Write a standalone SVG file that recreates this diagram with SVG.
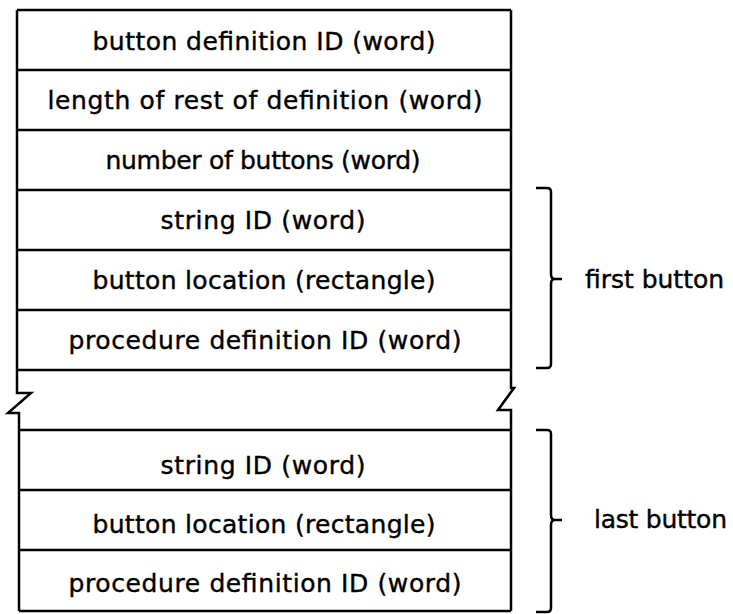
<svg xmlns="http://www.w3.org/2000/svg" width="733" height="614" viewBox="0 0 733 614">
<style>
.ln{fill:none;stroke:#000;stroke-width:2.5;stroke-linejoin:miter}
.t{font-family:"DejaVu Sans","Liberation Sans",sans-serif;font-size:25px;fill:#000;stroke:#000;stroke-width:0.4;text-anchor:middle}
.lb{font-family:"DejaVu Sans","Liberation Sans",sans-serif;font-size:25px;fill:#000;stroke:#000;stroke-width:0.4}
</style>
<rect width="733" height="614" fill="#fff"/>
<g id="connectors">
<path class="ln" d="M17,10 H511"/>
<path class="ln" d="M17,10 V393 H31 L8,413 H19 V611"/>
<path class="ln" d="M511,10 V388 H514 L498,410 H511 V611"/>
<path class="ln" d="M17,370 H511"/>
<path class="ln" d="M19,430 H511"/>
<path class="ln" d="M19,611 H511"/>
</g>
<g id="row1"><path class="ln" d="M17,70 H511"/><text class="t" x="264" y="50" textLength="343">button definition ID (word)</text></g>
<g id="row2"><path class="ln" d="M17,130 H511"/><text class="t" x="265" y="109" textLength="435">length of rest of definition (word)</text></g>
<g id="row3"><path class="ln" d="M17,190 H511"/><text class="t" x="263" y="169" textLength="315">number of buttons (word)</text></g>
<g id="row4"><path class="ln" d="M17,250 H511"/><text class="t" x="263" y="229" textLength="205">string ID (word)</text></g>
<g id="row5"><path class="ln" d="M17,310 H511"/><text class="t" x="264" y="289" textLength="343">button location (rectangle)</text></g>
<g id="row6"><text class="t" x="265" y="349" textLength="393">procedure definition ID (word)</text></g>
<g id="row7"><path class="ln" d="M19,490 H511"/><text class="t" x="263" y="474" textLength="205">string ID (word)</text></g>
<g id="row8"><path class="ln" d="M19,550 H511"/><text class="t" x="264" y="533" textLength="343">button location (rectangle)</text></g>
<g id="row9"><text class="t" x="265" y="592" textLength="393">procedure definition ID (word)</text></g>
<g id="first-button">
<path class="ln" d="M536,188 H547 Q551,188 551,192 V274 Q551,279 555,279 H562 M555,279 Q551,279 551,284 V364 Q551,368 547,368 H536"/>
<text class="lb" x="585" y="288" textLength="139">first button</text>
</g>
<g id="last-button">
<path class="ln" d="M536,430 H547 Q551,430 551,434 V515 Q551,520 555,520 H562 M555,520 Q551,520 551,525 V608 Q551,612 547,612 H536"/>
<text class="lb" x="594" y="528" textLength="133">last button</text>
</g>
</svg>
